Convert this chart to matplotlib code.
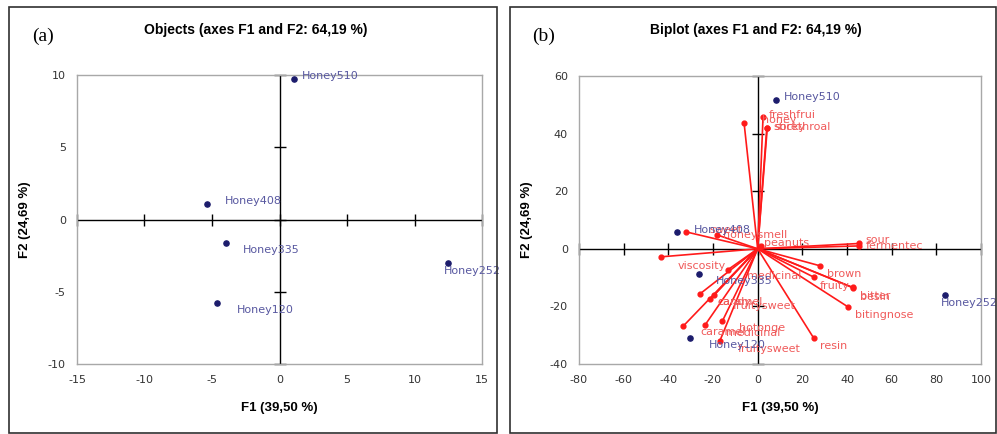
import numpy as np
import matplotlib.pyplot as plt
from matplotlib.patches import Rectangle

plt.rcParams["axes.unicode_minus"] = False

# ---------------- data ----------------
obs_names = ["Honey510", "Honey408", "Honey335", "Honey252", "Honey120"]
obs_x = [1.1, -5.4, -4.0, 12.5, -4.6]
obs_y = [9.7, 1.1, -1.6, -3.0, -5.75]

# biplot: observations (rescaled) and variable vectors
bi_obs_x = [8.0, -36.1, -26.4, 83.8, -30.4]
bi_obs_y = [51.6, 5.8, -8.6, -16.1, -30.9]

var_names = ["honey", "freshfrui", "sticky", "sorethroal", "sweet", "honeysmell",
             "peanuts", "sour", "fermentec", "viscosity", "brown", "fruity",
             "bitter", "besin", "bitingnose", "resin", "medicinal", "caramel",
             "fruitysweet", "candy", "caramel", "medicinal", "hotonge", "fruitysweet"]
var_x = [-6.1, 2.4, 4.1, 4.3, -32.2, -18.4,
         1.5, 45.5, 45.5, -43.4, 27.9, 25.0,
         42.5, 42.6, 40.3, 25.0, -13.4, -25.9,
         -19.5, -21.4, -33.4, -23.5, -15.8, -17.0]
var_y = [43.8, 45.7, 42.1, 42.0, 5.9, 4.9,
         1.0, 1.85, 1.0, -2.8, -5.9, -9.8,
         -13.4, -13.5, -20.1, -30.9, -7.3, -15.7,
         -16.1, -17.5, -26.9, -26.4, -25.1, -32.1]

# label offsets in pixels (layout only)
obs_off = [(8, 3), (18, 3), (17, -7), (-4, -8), (19, -7)]
bi_obs_off = [(8, 3), (17, 2), (17, -7), (-4, -8), (19, -7)]
var_off = [(18, 3), (6, 2), (7, 1), (7, 1), (24, 2), (6, 0),
           (3, 3), (6, 3), (6, 0), (17, -9), (7, -8), (6, -9),
           (7, -9), (7, -9), (7, -8), (6, -8), (19, -6), (18, -8),
           (19, -11), (8, -3), (17, -6), (21, -8), (17, -7), (18, -8)]

W, H = 997, 434
fig = plt.figure(figsize=(W / 100, H / 100), dpi=100)

navy = "#1c1c6c"
blue_txt = "#5858a0"
red = "#ff1a1a"
red_txt = "#f05a5a"
tick_col = "#333333"


def px(x0, y0, x1, y1):
    return [x0 / W, 1 - y1 / H, (x1 - x0) / W, (y1 - y0) / H]


def style_axes(ax, xlim, ylim, xt, yt):
    ax.set_xlim(*xlim)
    ax.set_ylim(*ylim)
    ax.set_xticks(xt)
    ax.set_yticks(yt)
    ax.tick_params(length=0, labelsize=8, colors=tick_col, pad=8)
    for s in ax.spines.values():
        s.set_color("#a8a8a8")
        s.set_linewidth(1.0)
    ax.axhline(0, color="black", lw=1.0, zorder=1)
    ax.axvline(0, color="black", lw=1.0, zorder=1)
    ax.plot(xt, np.zeros(len(xt)), ls="none", marker="|", ms=8, mew=1.0,
            color="black", zorder=1, clip_on=False)
    ax.plot(np.zeros(len(yt)), yt, ls="none", marker="_", ms=8, mew=1.0,
            color="black", zorder=1, clip_on=False)
    ax.set_xlabel("F1 (39,50 %)", fontsize=9.5, fontweight="bold",
                  family="Liberation Sans", labelpad=12)
    ax.set_ylabel("F2 (24,69 %)", fontsize=9.5, fontweight="bold",
                  family="Liberation Sans", labelpad=12)


# ---------------- (a) objects ----------------
ax1 = fig.add_axes(px(77, 75, 482, 364))
style_axes(ax1, (-15, 15), (-10, 10), np.arange(-15, 16, 5), np.arange(-10, 11, 5))
ax1.scatter(obs_x, obs_y, s=14, color=navy, zorder=3)
for n, x, y, o in zip(obs_names, obs_x, obs_y, obs_off):
    ax1.annotate(n, (x, y), xytext=o, textcoords="offset pixels",
                 fontsize=8, color=blue_txt, va="center", ha="left", zorder=4)

# ---------------- (b) biplot ----------------
ax2 = fig.add_axes(px(579, 76, 981, 364))
style_axes(ax2, (-80, 100), (-40, 60), np.arange(-80, 101, 20), np.arange(-40, 61, 20))
for x, y in zip(var_x, var_y):
    ax2.plot([0, x], [0, y], color=red, lw=1.2, zorder=2)
ax2.scatter(var_x, var_y, s=12, color=red, zorder=3)
for n, x, y, o in zip(var_names, var_x, var_y, var_off):
    ax2.annotate(n, (x, y), xytext=o, textcoords="offset pixels",
                 fontsize=8, color=red_txt, va="center", ha="left", zorder=4)
ax2.scatter(bi_obs_x, bi_obs_y, s=14, color=navy, zorder=3)
for n, x, y, o in zip(obs_names, bi_obs_x, bi_obs_y, bi_obs_off):
    ax2.annotate(n, (x, y), xytext=o, textcoords="offset pixels",
                 fontsize=8, color=blue_txt, va="center", ha="left", zorder=5)

# titles, panel letters and frames
fig.text(256 / W, 1 - 30 / H, "Objects (axes F1 and F2: 64,19 %)", ha="center",
         va="center", fontsize=10, fontweight="bold", family="Liberation Sans")
fig.text(756 / W, 1 - 30 / H, "Biplot (axes F1 and F2: 64,19 %)", ha="center",
         va="center", fontsize=10, fontweight="bold", family="Liberation Sans")
fig.text(32 / W, 1 - 36 / H, "(a)", ha="left", va="center", fontsize=14,
         family="Liberation Serif")
fig.text(532 / W, 1 - 36 / H, "(b)", ha="left", va="center", fontsize=14,
         family="Liberation Serif")
for x0, x1 in [(9, 497), (510, 996)]:
    fig.add_artist(Rectangle((x0 / W, 1 - 433 / H), (x1 - x0) / W, 426 / H,
                             transform=fig.transFigure, fill=False,
                             edgecolor="#303030", lw=1.2))

fig.savefig("out.png", dpi=100)
